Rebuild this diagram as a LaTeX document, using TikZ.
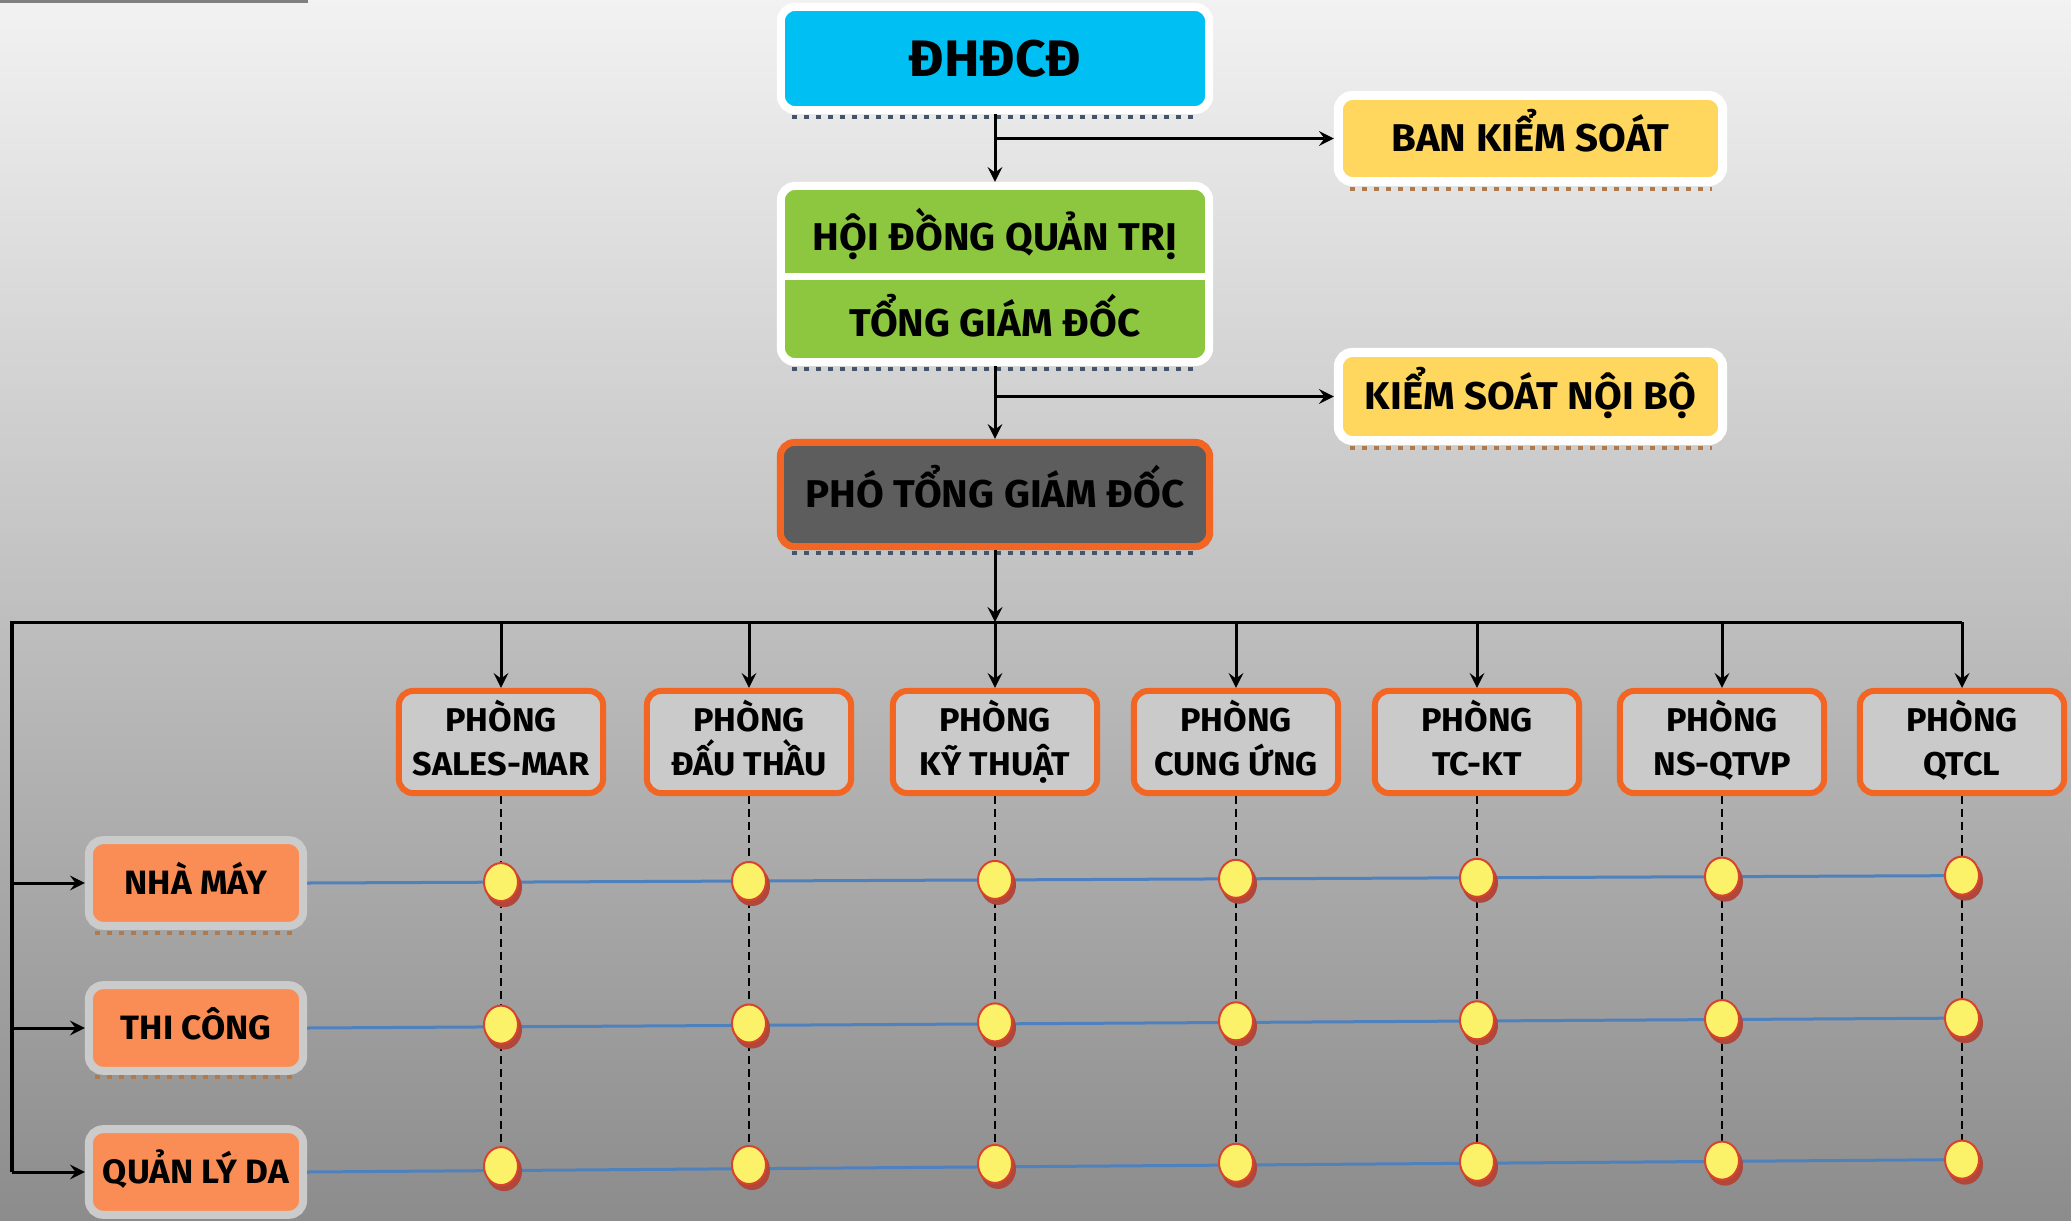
\documentclass[tikz,border=0pt]{standalone}
\usepackage{fontspec}
\setmainfont{Fira Sans}[FakeStretch=1.04]
\usetikzlibrary{arrows,shapes.geometric,shadows}
\definecolor{bgtop}{HTML}{F2F2F2}
\definecolor{bgbot}{HTML}{8C8C8C}
\definecolor{dhfill}{HTML}{00BFF3}
\definecolor{hdfill}{HTML}{8DC63F}
\definecolor{ksfill}{HTML}{FFD75E}
\definecolor{ptfill}{HTML}{5D5D5D}
\definecolor{orline}{HTML}{F26522}
\definecolor{roomfill}{HTML}{CACACA}
\definecolor{unitfill}{HTML}{F98D55}
\definecolor{unitline}{HTML}{CBCBCB}
\definecolor{rowblue}{HTML}{4F81BD}
\definecolor{knotfill}{HTML}{FCF26A}
\definecolor{knotline}{HTML}{D8432E}
\definecolor{knotshade}{HTML}{B0473A}
\definecolor{navydash}{HTML}{44546A}
\definecolor{browndash}{HTML}{B07A4A}
\newcommand\roomline[1]{\raisebox{0pt}[\height][2.4pt]{#1}}

\begin{document}
\begin{tikzpicture}[x=0.01cm,y=-0.01cm,
  box/.style={rectangle,rounded corners=0.14cm,inner sep=0pt,text=black},
  bigfont/.style={font=\bfseries\fontsize{11}{13}\selectfont,text height=7.6pt,text depth=0pt},
  roombox/.style={box,draw=orline,fill=roomfill,line width=0.06cm,minimum width=2.04cm,minimum height=1.02cm,align=center,font=\bfseries\fontsize{9.35}{12.3}\selectfont},
  unitbox/.style={box,draw=unitline,fill=unitfill,line width=0.08cm,minimum width=2.14cm,minimum height=0.855cm,font=\bfseries\fontsize{9.6}{11}\selectfont,text height=6.6pt,text depth=0pt},
  knot/.style={ellipse,draw=knotline,fill=knotfill,line width=0.02cm,minimum width=0.34cm,minimum height=0.38cm,inner sep=0pt,
    general shadow={fill=knotshade,draw=knotshade,shadow xshift=0.03cm,shadow yshift=-0.05cm}},
  linkarrow/.style={->,>=stealth,line width=0.03cm,black},
  rowline/.style={rowblue,line width=0.03cm},
  colline/.style={black,dashed,dash pattern=on 0.08cm off 0.05cm,line width=0.025cm},
  shadedash/.style={line width=0.04cm,dash pattern=on 0.05cm off 0.07cm}]
\useasboundingbox (0,0) rectangle (2071,1220);
\shade[top color=bgtop,bottom color=bgbot] (0,0) rectangle (2071,1220);
\fill[gray] (0,0) rectangle (308,2.5);

% top of the chart
\draw[shadedash,navydash] (792,117) -- (1200,117);
\node[box,draw=white,fill=dhfill,line width=0.08cm,minimum width=4.28cm,minimum height=1.03cm,
  font=\bfseries\fontsize{14.6}{16}\selectfont,text height=10.05pt,text depth=0pt] (dh) at (995,58.5) {ĐHĐCĐ};
\draw[shadedash,browndash] (1350,189) -- (1712,189);
\node[box,draw=white,fill=ksfill,line width=0.09cm,minimum width=3.84cm,minimum height=0.86cm,bigfont] (bks) at (1530.5,138.5) {BAN KIỂM SOÁT};
\draw[shadedash,navydash] (792,369) -- (1200,369);
\node[box,draw=white,fill=hdfill,line width=0.08cm,minimum width=4.28cm,minimum height=1.76cm] (hd) at (995,274) {};
\draw[white,line width=0.07cm] (785,276.5) -- (1205,276.5);
\node[bigfont] (hdq) at (995,237.5) {HỘI ĐỒNG QUẢN TRỊ};
\node[bigfont] (tgd) at (995,323) {TỔNG GIÁM ĐỐC};
\draw[shadedash,browndash] (1350,448) -- (1712,448);
\node[box,draw=white,fill=ksfill,line width=0.09cm,minimum width=3.84cm,minimum height=0.88cm,bigfont] (ksnb) at (1530.5,396.5) {KIỂM SOÁT NỘI BỘ};
\draw[shadedash,navydash] (792,553) -- (1200,553);
\node[box,draw=orline,fill=ptfill,line width=0.07cm,minimum width=4.29cm,minimum height=1.04cm,bigfont] (ptgd) at (995,494.5) {PHÓ TỔNG GIÁM ĐỐC};

\draw[linkarrow] (dh.south) -- (hd.north);
\draw[linkarrow] (dh.south |- bks.west) -- (bks.west);
\draw[linkarrow] (hd.south) -- (ptgd.north);
\draw[linkarrow] (hd.south |- ksnb.west) -- (ksnb.west);

% phong ban
\node[roombox] (p1) at (501,742) {PHÒNG\\\roomline{SALES-MAR}};
\node[roombox] (p2) at (749,742) {PHÒNG\\\roomline{ĐẤU THẦU}};
\node[roombox] (p3) at (995,742) {PHÒNG\\\roomline{KỸ THUẬT}};
\node[roombox] (p4) at (1236,742) {PHÒNG\\\roomline{CUNG ỨNG}};
\node[roombox] (p5) at (1477,742) {PHÒNG\\\roomline{TC-KT}};
\node[roombox] (p6) at (1722,742) {PHÒNG\\\roomline{NS-QTVP}};
\node[roombox] (p7) at (1962,742) {PHÒNG\\\roomline{QTCL}};

% don vi
\draw[shadedash,browndash] (95,933) -- (297,933);
\draw[shadedash,browndash] (95,1077) -- (297,1077);
\node[unitbox] (nm) at (196,883) {NHÀ MÁY};
\node[unitbox] (tc) at (196,1028) {THI CÔNG};
\node[unitbox] (qly) at (196,1172) {QUẢN LÝ DA};

\coordinate (bus) at (995,622);
\coordinate (busL) at (12,622);
\draw[linkarrow] (ptgd.south) -- (bus);
\draw[line width=0.03cm] (busL |- qly) -- (busL) -- (p7 |- bus);
\foreach \c in {1,...,7}
  \draw[linkarrow] (p\c |- bus) -- (p\c.north);
\foreach \r in {nm,tc,qly}
  \draw[linkarrow] (busL |- \r) -- (\r.west);

% diem giao, hang hoi nghieng len ben phai
\foreach \c/\s in {1/0.009,2/0.02,3/0.031,4/0.042,5/0.052,6/0.064,7/0.074}
  \foreach \r/\o in {nm/0,tc/0.025,qly/0.05}
    \coordinate (c\c\r) at ([yshift=\s cm,yshift=\o cm]p\c |- \r);
\foreach \r in {nm,tc,qly}
  \draw[rowline] (\r.east) -- (c7\r);
\foreach \c in {1,...,7}
  \draw[colline] (p\c.south) -- (c\c qly);
\foreach \c in {1,...,7}
  \foreach \r in {nm,tc,qly}
    \node[knot] (k\c\r) at (c\c\r) {};
\end{tikzpicture}
\end{document}
